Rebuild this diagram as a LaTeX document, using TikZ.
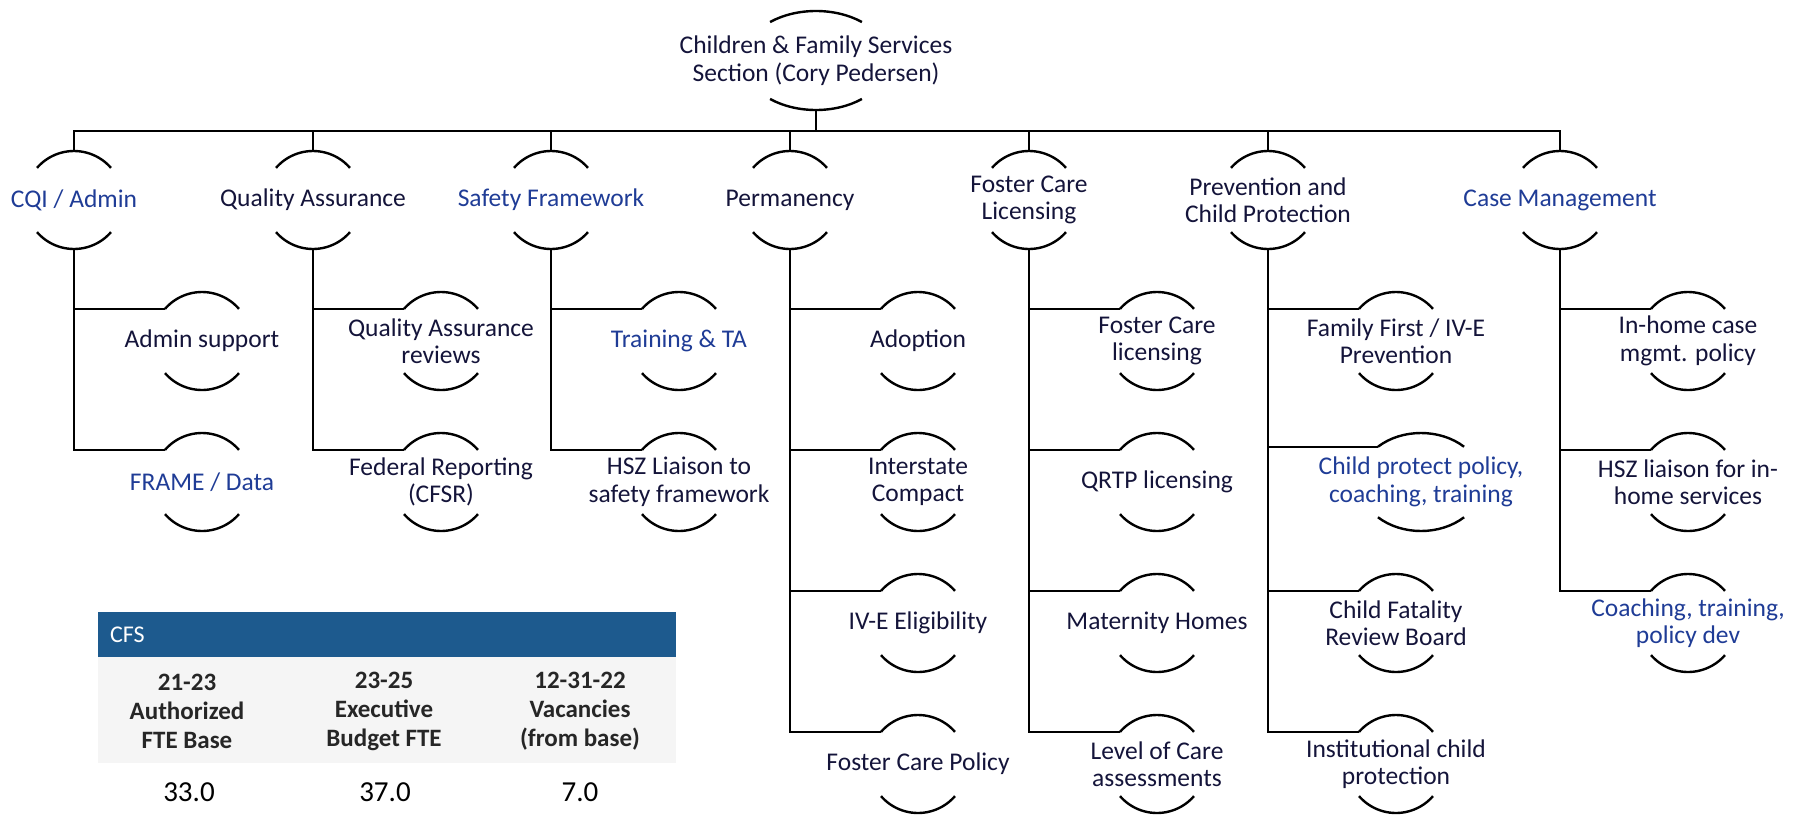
\documentclass[tikz,border=0pt]{standalone}
\usepackage{fontspec}
\setmainfont{Carlito}
\usetikzlibrary{calc,shapes.geometric}
\definecolor{ink}{HTML}{14143A}
\definecolor{blueink}{HTML}{1F3C96}
\definecolor{barblue}{HTML}{1D5A8E}
\tikzset{
  hub/.style={circle, minimum size=98pt, inner sep=0pt, outer sep=0pt},
  ehub/.style={ellipse, inner sep=0pt, outer sep=0pt},
  lbl/.style={font=\fontsize{25.5}{27.5}\selectfont, text=ink, align=center, inner sep=0pt},
  blbl/.style={lbl, text=blueink},
  rootlbl/.style={lbl, font=\fontsize{25.5}{28.5}\selectfont},
  arcline/.style={draw=black, line width=2.4pt},
  conn/.style={draw=black, line width=2.4pt},
  hdr/.style={font=\fontsize{25}{29}\selectfont\bfseries, text=black!85, align=center, inner sep=0pt},
  val/.style={font=\fontsize{29}{32}\selectfont, text=black, inner sep=0pt},
}
\newcommand\hubarcs[4]{%
  \draw[arcline] ([shift={({-(#2)*cos(#4)},{(#3)*sin(#4)})}]#1.center)
     arc[start angle={180-(#4)}, end angle={#4}, x radius=#2pt, y radius=#3pt];
  \draw[arcline] ([shift={({-(#2)*cos(#4)},{-(#3)*sin(#4)})}]#1.center)
     arc[start angle={180+(#4)}, end angle={360-(#4)}, x radius=#2pt, y radius=#3pt];
}
\begin{document}
\begin{tikzpicture}[x=1pt,y=1pt]
\useasboundingbox (0,0) rectangle (1802,-814);

% root
\node[ehub, minimum width=146pt, minimum height=99pt,
      label={[rootlbl]center:{Children \& Family Services\\Section (Cory Pedersen)}}] (root) at (816,-60.5) {};
\coordinate (bus) at (0,-131);

% titles
\node[hub, label={[blbl]center:{CQI / Admin}}] (t1) at (74,-200) {};
\node[hub, label={[lbl]center:{Quality Assurance}}] (t2) at (313,-200) {};
\node[hub, label={[blbl]center:{Safety Framework}}] (t3) at (551,-200) {};
\node[hub, label={[lbl]center:{Permanency}}] (t4) at (790,-200) {};
\node[hub, label={[lbl]center:{Foster Care\\Licensing}}] (t5) at (1029,-200) {};
\node[hub, label={[lbl]center:{Prevention and\\Child Protection}}] (t6) at (1268,-200) {};
\node[hub, label={[blbl]center:{Case Management}}] (t7) at (1560,-200) {};

% sub nodes
\node[hub, label={[lbl]center:{Admin support}}] (s11) at (202,-341) {};
\node[hub, label={[blbl]center:{FRAME / Data}}] (s12) at (202,-482) {};

\node[hub, label={[lbl]center:{Quality Assurance\\reviews}}] (s21) at (441,-341) {};
\node[hub, label={[lbl]center:{Federal Reporting\\(CFSR)}}] (s22) at (441,-482) {};

\node[hub, label={[blbl]center:{Training \& TA}}] (s31) at (679,-341) {};
\node[hub, label={[lbl]center:{HSZ Liaison to\\safety framework}}] (s32) at (679,-482) {};

\node[hub, label={[lbl]center:{Adoption}}] (s41) at (918,-341) {};
\node[hub, label={[lbl]center:{Interstate\\Compact}}] (s42) at (918,-482) {};
\node[hub, label={[lbl]center:{IV-E Eligibility}}] (s43) at (918,-623) {};
\node[hub, label={[lbl]center:{Foster Care Policy}}] (s44) at (918,-764) {};

\node[hub, label={[lbl]center:{Foster Care\\licensing}}] (s51) at (1157,-341) {};
\node[hub, label={[lbl]center:{QRTP licensing}}] (s52) at (1157,-482) {};
\node[hub, label={[lbl]center:{Maternity Homes}}] (s53) at (1157,-623) {};
\node[hub, label={[lbl]center:{Level of Care\\assessments}}] (s54) at (1157,-764) {};

\node[hub, label={[lbl]center:{Family First / IV-E\\Prevention}}] (s61) at (1396,-341) {};
\node[ehub, minimum width=124pt, minimum height=98pt, label={[blbl]center:{Child protect policy,\\coaching, training}}] (s62) at (1421,-482) {};
\node[hub, label={[lbl]center:{Child Fatality\\Review Board}}] (s63) at (1396,-623) {};
\node[hub, label={[lbl]center:{Institutional child\\protection}}] (s64) at (1396,-764) {};

\node[hub, label={[lbl]center:{In-home case\\mgmt. policy}}] (s71) at (1688,-341) {};
\node[hub, label={[lbl]center:{HSZ liaison for in-\\home services}}] (s72) at (1688,-482) {};
\node[hub, label={[blbl]center:{Coaching, training,\\policy dev}}] (s73) at (1688,-623) {};

% arcs
\hubarcs{root}{73}{49.5}{51}
\foreach \n in {t1,t2,t3,t4,t5,t6,t7,s11,s12,s21,s22,s31,s32,s41,s42,s43,s44,s51,s52,s53,s54,s61,s63,s64,s71,s72,s73}
  {\hubarcs{\n}{49}{49}{41}}
\hubarcs{s62}{62}{49}{46}

% bus connectors
\foreach \t in {t1,t2,t3,t4,t5,t6,t7}
  {\draw[conn] (root.south) -- (root.south |- bus) -| (\t.north);}

% branch connectors
\foreach \t/\s in {t1/s11,t1/s12,t2/s21,t2/s22,t3/s31,t3/s32,t4/s41,t4/s42,t4/s43,t4/s44,t5/s51,t5/s52,t5/s53,t5/s54,t6/s61,t6/s63,t6/s64,t7/s71,t7/s72,t7/s73}
  {\draw[conn] (\t.south) |- ([shift={(-37,32)}]\s.center);}
\draw[conn] (t6.south) |- ([shift={(-43,35.2)}]s62.center);

% table
\fill[black!4] (98,-657) rectangle (676,-763);
\node[fill=barblue, minimum width=578pt, minimum height=45pt, inner sep=0pt, anchor=north west] (bar) at (98,-612) {};
\node[font=\fontsize{24}{27}\selectfont, text=white, anchor=west, inner sep=0pt] (cfs) at (110,-635) {CFS};
\node[hdr] (h1) at (187,-711) {21-23\\Authorized\\FTE Base};
\node[hdr] (h2) at (384,-711) {23-25\\Executive\\Budget FTE};
\node[hdr] (h3) at (580,-711) {12-31-22\\Vacancies\\(from base)};
\node[val] (v1) at (189,-792) {33.0};
\node[val] (v2) at (385,-792) {37.0};
\node[val] (v3) at (580,-792) {7.0};
\end{tikzpicture}
\end{document}
